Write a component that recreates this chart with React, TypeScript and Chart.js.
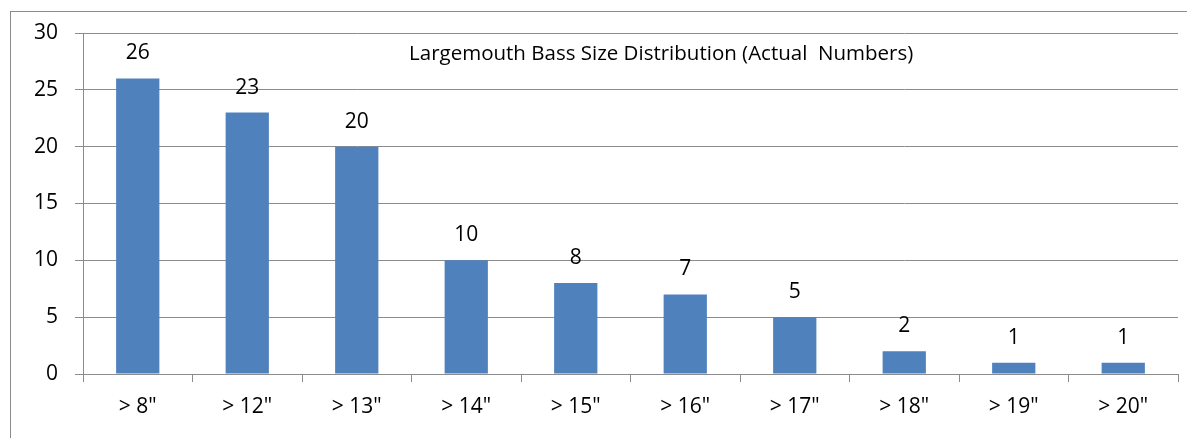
import React, { useEffect, useRef } from "react";
import { Chart, registerables } from "chart.js";

Chart.register(...registerables);

const categories = ['> 8"', '> 12"', '> 13"', '> 14"', '> 15"', '> 16"', '> 17"', '> 18"', '> 19"', '> 20"'];
const counts = [26, 23, 20, 10, 8, 7, 5, 2, 1, 1];
const yTicks = [0, 5, 10, 15, 20, 25, 30];
const titleText = "Largemouth Bass Size Distribution (Actual  Numbers)";

const FONT = "'Open Sans', Lato, sans-serif";
const GRID = "#8c8c8c";

const valueLabels = {
  id: "valueLabels",
  afterDatasetsDraw(chart: any) {
    const ctx = chart.ctx;
    const meta = chart.getDatasetMeta(0);
    ctx.save();
    ctx.fillStyle = "#000";
    ctx.font = `21px ${FONT}`;
    ctx.textAlign = "center";
    ctx.textBaseline = "alphabetic";
    meta.data.forEach((bar: any, i: number) => {
      ctx.fillText(String(counts[i]), bar.x, bar.y - 19);
    });
    ctx.restore();
  },
};

const innerTitle = {
  id: "innerTitle",
  afterDatasetsDraw(chart: any) {
    const { ctx, chartArea } = chart;
    ctx.save();
    ctx.fillStyle = "#000";
    ctx.font = `20.5px ${FONT}`;
    ctx.textAlign = "center";
    ctx.textBaseline = "alphabetic";
    ctx.fillText(titleText, chartArea.left + (chartArea.right - chartArea.left) * 0.528, chartArea.top + 27);
    ctx.restore();
  },
};

export default function App() {
  const ref = useRef<HTMLCanvasElement>(null);
  useEffect(() => {
    const chart = new Chart(ref.current!, {
      type: "bar",
      data: {
        labels: categories,
        datasets: [
          {
            data: counts,
            backgroundColor: "#4f81bd",
            borderWidth: 0,
            barPercentage: 0.395,
            categoryPercentage: 1,
          },
        ],
      },
      options: {
        animation: false,
        responsive: false,
        maintainAspectRatio: false,
        layout: { padding: { left: 0, right: 9, top: 33, bottom: 0 } },
        plugins: {
          legend: { display: false },
          title: { display: false },
          tooltip: { enabled: false },
        },
        scales: {
          x: {
            offset: true,
            grid: {
              offset: true,
              drawOnChartArea: false,
              drawTicks: true,
              tickLength: 8,
              color: GRID,
            },
            border: { color: GRID, width: 1 },
            ticks: {
              color: "#000",
              font: { family: FONT, size: 21 },
              padding: 12,
              maxRotation: 0,
              autoSkip: false,
            },
            afterFit(axis: any) {
              axis.height = 64;
            },
          },
          y: {
            min: 0,
            max: 30,
            afterBuildTicks(axis: any) {
              axis.ticks = yTicks.map((v) => ({ value: v }));
            },
            grid: { color: GRID, tickLength: 8, drawTicks: true },
            border: { color: GRID, width: 1 },
            ticks: {
              color: "#000",
              font: { family: FONT, size: 21 },
              padding: 17,
            },
            afterFit(axis: any) {
              axis.width = 83;
            },
          },
        },
      },
      plugins: [valueLabels, innerTitle],
    });
    return () => chart.destroy();
  }, []);

  return (
    <div style={{ position: "fixed", left: 0, top: 0, width: 1187, height: 438, overflow: "hidden", background: "#fff" }}>
      <div
        style={{
          position: "absolute",
          left: 10,
          top: 11,
          width: 1300,
          height: 600,
          borderTop: `1px solid ${GRID}`,
          borderLeft: `1px solid ${GRID}`,
        }}
      />
      <canvas ref={ref} width={1187} height={438} style={{ position: "absolute", left: 0, top: 0, width: 1187, height: 438 }} />
    </div>
  );
}
